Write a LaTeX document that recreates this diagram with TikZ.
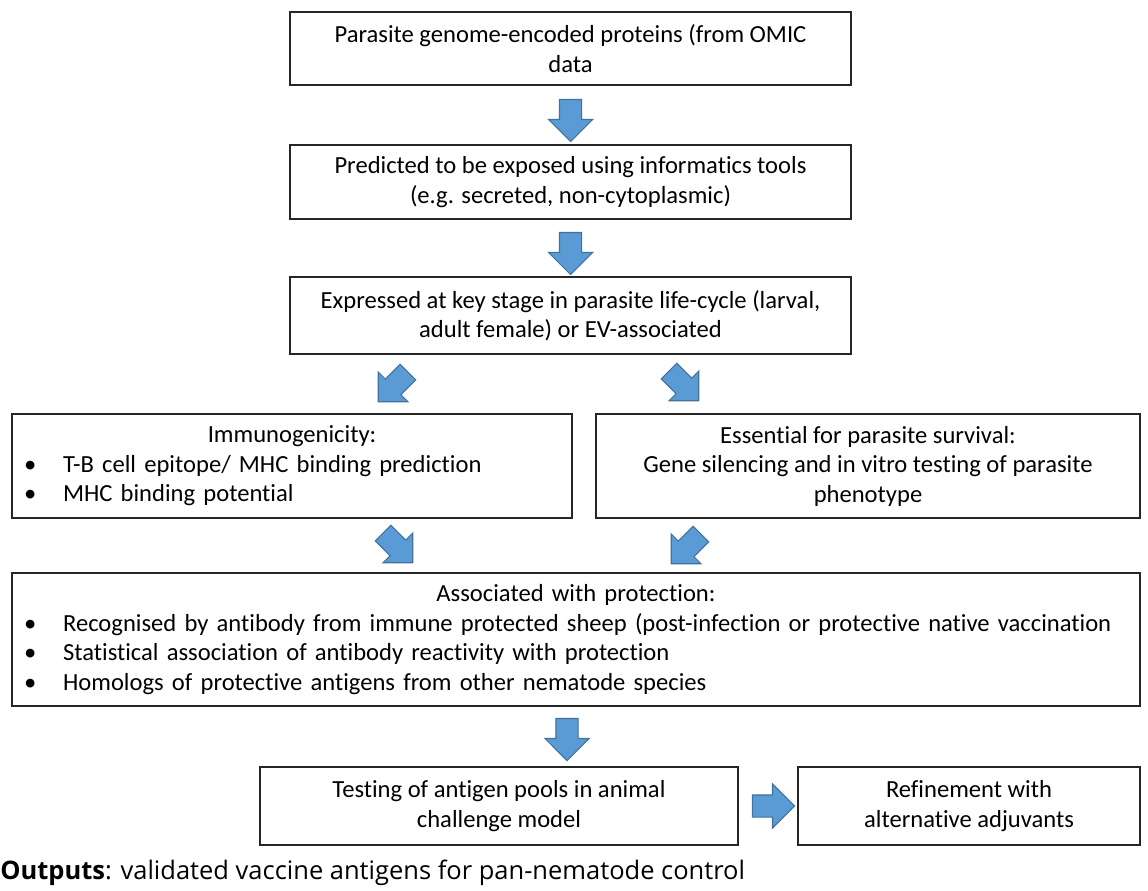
\documentclass[tikz,border=0pt]{standalone}
\usepackage{fontspec}
\setmainfont[Ligatures=NoCommon]{Carlito}
\newfontfamily\outfont{Open Sans}
\usetikzlibrary{shapes.arrows,calc}
\definecolor{arrowfill}{HTML}{5B9BD5}
\definecolor{arrowline}{HTML}{41719C}
\newcommand\bitem{\makebox[0.78cm][l]{\textbullet}}
\tikzset{
  stagebox/.style={draw=black!85, line width=1pt, align=center, inner sep=0pt,
    font=\fontsize{14}{16.8}\selectfont},
  blockarrow/.style={single arrow, draw=arrowline, fill=arrowfill, line width=0.6pt,
    minimum height=0.84cm, inner xsep=0pt, inner ysep=0.21cm,
    single arrow head extend=0.22cm, rotate=#1},
  diagarrow/.style={blockarrow=#1, minimum height=0.84cm, inner ysep=0.21cm,
    single arrow head extend=0.2cm},
}

\begin{document}
\begin{tikzpicture}[x=0.02cm, y=-0.02cm]
		%%%%% START %%%%%
		\useasboundingbox (0, 0) rectangle (1148, 891);
		
		\node[stagebox, minimum width=11.22cm, minimum height=1.46cm] (genome) at (570.5, 48.5)
			{Parasite genome-encoded proteins (from OMIC\\data};
		\node[stagebox, minimum width=11.22cm, minimum height=1.48cm] (exposed) at (570.5, 182)
			{Predicted to be exposed using informatics tools\\(e.g. secreted, non-cytoplasmic)};
		\node[stagebox, minimum width=11.22cm, minimum height=1.54cm] (stage) at (570.5, 315.5)
			{Expressed at key stage in parasite life-cycle (larval,\\adult female) or EV-associated};
		
		\node[stagebox, minimum width=11.2cm, minimum height=2.08cm, text width=10.72cm, align=left] (immuno) at (292, 466)
			{\centering Immunogenicity:\par\raggedright
			 \bitem T-B cell epitope/ MHC binding prediction\par
			 \bitem MHC binding potential};
		\node[stagebox, minimum width=10.88cm, minimum height=2.08cm] (survival) at (868, 466)
			{Essential for parasite survival:\\Gene silencing and in vitro testing of parasite\\phenotype};
		
		\node[stagebox, minimum width=22.56cm, minimum height=2.66cm, text width=22.08cm, align=left] (protect) at (576, 639.5)
			{\centering Associated with protection:\par\raggedright
			 \bitem Recognised by antibody from immune protected sheep (post-infection or protective native vaccination\par
			 \bitem Statistical association of antibody reactivity with protection\par
			 \bitem Homologs of protective antigens from other nematode species};
		
		\node[stagebox, minimum width=9.56cm, minimum height=1.56cm] (testing) at (499, 806)
			{Testing of antigen pools in animal\\challenge model};
		\node[stagebox, minimum width=6.84cm, minimum height=1.56cm] (refine) at (969, 806)
			{Refinement with\\alternative adjuvants};
		
		\node[blockarrow=-90] (a1) at ($(genome.south)!0.5!(exposed.north)$) {};
		\node[blockarrow=-90] (a2) at ($(exposed.south)!0.5!(stage.north)$) {};
		\node[diagarrow=-135] (a3) at (397, 383) {};
		\node[diagarrow=-45] (a4) at (680, 382) {};
		\node[diagarrow=-45] (a5) at (394, 544) {};
		\node[diagarrow=-135] (a6) at (690, 545) {};
		\node[blockarrow=-90] (a7) at (567, 734) {};
		\node[blockarrow=0] (a8) at ($(testing.east)!0.5!(refine.west)$) {};
		
		\node[anchor=base west, inner sep=0pt, font=\outfont\fontsize{14.5}{17}\selectfont] (outputs) at (0, 879)
			{\textbf{Outputs}: validated vaccine antigens for pan-nematode control};
		
		%%%%% END %%%%%
	\end{tikzpicture}
\end{document}
